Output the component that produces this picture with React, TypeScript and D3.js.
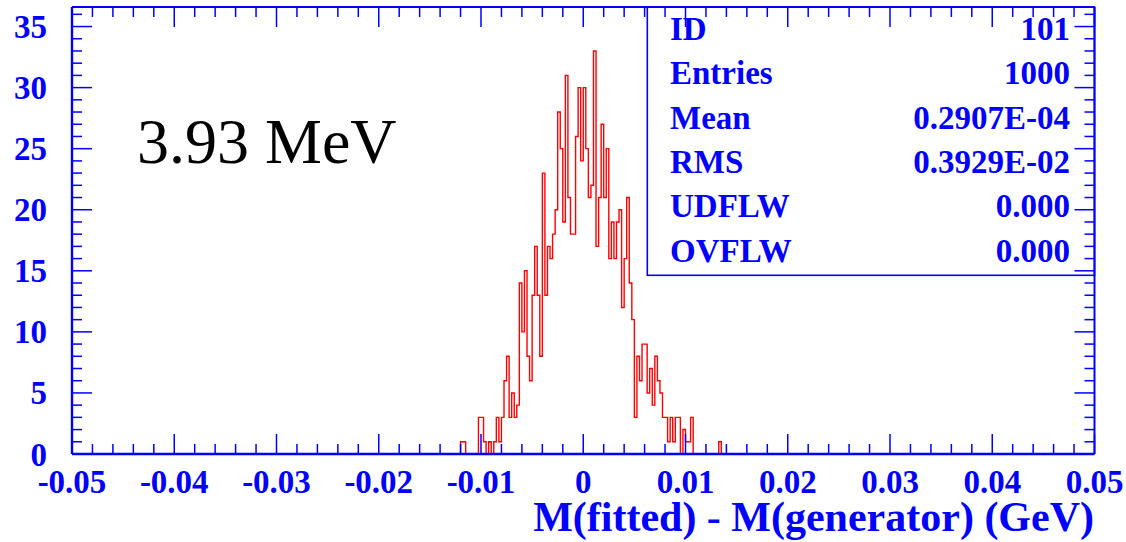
import React from 'react';
import * as d3 from 'd3';

// Histogram definition: 400 bins over [-0.05, 0.05]; non-empty region starts at -0.012
const binLow = -0.012;
const binWidth = 0.00025;
const counts = [
  1, 1, 0, 0, 0, 0, 0, 3, 3, 1,
  0, 1, 0, 1, 3, 1, 3, 6, 8, 3,
  5, 3, 4, 14, 10, 15, 8, 6, 13, 17,
  13, 8, 23, 13, 17, 16, 18, 20, 28, 25,
  19, 31, 21, 18, 18, 26, 30, 24, 30, 25,
  21, 22, 33, 17, 21, 27, 21, 25, 16, 19,
  16, 19, 20, 12, 16, 21, 14, 11, 3, 8,
  6, 9, 9, 5, 7, 4, 8, 6, 5, 3,
  3, 1, 3, 1, 3, 3, 0, 2, 1, 1,
  3, 0, 0, 0, 0, 0, 0, 0, 0, 0,
  0, 1,
];

const xTickValues = [-0.05, -0.04, -0.03, -0.02, -0.01, 0, 0.01, 0.02, 0.03, 0.04, 0.05];
const xTickLabels = ['-0.05', '-0.04', '-0.03', '-0.02', '-0.01', '0', '0.01', '0.02', '0.03', '0.04', '0.05'];
const yTickValues = [0, 5, 10, 15, 20, 25, 30, 35];
const yTickLabels = ['0', '5', '10', '15', '20', '25', '30', '35'];

const statLabels = ['ID', 'Entries', 'Mean', 'RMS', 'UDFLW', 'OVFLW'];
const statValues = ['101', '1000', '0.2907E-04', '0.3929E-02', '0.000', '0.000'];

const xTitle = 'M(fitted) - M(generator) (GeV)';
const annotation = '3.93 MeV';

const BLUE = '#0000ff';
const RED = '#ff0000';
const FONT = '"Liberation Serif", "DejaVu Serif", serif';

export default function App() {
  const W = 1126;
  const H = 542;
  const left = 72;
  const right = 1094.5;
  const top = 7;
  const bottom = 454;

  const x = d3.scaleLinear().domain([-0.05, 0.05]).range([left, right]);
  const y = d3.scaleLinear().domain([0, 36.6]).range([bottom, top]);

  const pts: [number, number][] = [[binLow, 0]];
  counts.forEach((c, i) => pts.push([binLow + i * binWidth, c]));
  pts.push([binLow + counts.length * binWidth, 0]);
  const histPath = d3
    .line<[number, number]>()
    .x((d) => x(d[0]))
    .y((d) => y(d[1]))
    .curve(d3.curveStepAfter)(pts) as string;

  const xMinor = x.ticks(50);
  const yMinor = d3.range(0, 37);
  const isXMajor = (v: number) => Math.abs(v * 100 - Math.round(v * 100)) < 1e-6;
  const isYMajor = (v: number) => v % 5 === 0;

  const boxLeft = 647.3;
  const boxBottom = 275.3;
  const rowBase = [40, 84.3, 128.6, 172.9, 217.2, 261.5];

  return (
    <svg
      width={W}
      height={H}
      viewBox={`0 0 ${W} ${H}`}
      style={{ position: 'absolute', left: 0, top: 0, background: '#fff' }}
    >
      <rect x={0} y={0} width={W} height={H} fill="#fff" />
      {/* histogram */}
      <path d={histPath} fill="none" stroke={RED} strokeWidth={1.4} />

      {/* x ticks bottom & top */}
      {xMinor.map((v, i) => {
        const len = isXMajor(v) ? 20 : 10;
        return (
          <g key={`xt${i}`} stroke={BLUE} strokeWidth={1.5}>
            <line x1={x(v)} x2={x(v)} y1={bottom} y2={bottom - len} />
            <line x1={x(v)} x2={x(v)} y1={top} y2={top + len} />
          </g>
        );
      })}
      {/* y ticks left & right */}
      {yMinor.map((v, i) => {
        const len = isYMajor(v) ? 20 : 10;
        return (
          <g key={`yt${i}`} stroke={BLUE} strokeWidth={1.5}>
            <line x1={left} x2={left + len} y1={y(v)} y2={y(v)} />
            <line x1={right} x2={right - len} y1={y(v)} y2={y(v)} />
          </g>
        );
      })}

      {/* frame */}
      <line x1={left} x2={left} y1={top} y2={bottom} stroke={BLUE} strokeWidth={2.4} />
      <line x1={left} x2={right} y1={bottom} y2={bottom} stroke={BLUE} strokeWidth={2.6} />
      <line x1={left} x2={right} y1={top} y2={top} stroke={BLUE} strokeWidth={2} />
      <line x1={right} x2={right} y1={top} y2={bottom} stroke={BLUE} strokeWidth={2} />

      {/* stats box */}
      <rect
        x={boxLeft}
        y={top}
        width={right - boxLeft}
        height={boxBottom - top}
        fill="none"
        stroke={BLUE}
        strokeWidth={1.6}
      />
      {statLabels.map((s, i) => (
        <text
          key={`sl${i}`}
          x={670}
          y={rowBase[i]}
          fill={BLUE}
          fontFamily={FONT}
          fontWeight="bold"
          fontSize={33}
        >
          {s}
        </text>
      ))}
      {statValues.map((s, i) => (
        <text
          key={`sv${i}`}
          x={1070}
          y={rowBase[i]}
          fill={BLUE}
          fontFamily={FONT}
          fontWeight="bold"
          fontSize={33}
          textAnchor="end"
        >
          {s}
        </text>
      ))}

      {/* x tick labels */}
      {xTickValues.map((v, i) => (
        <text
          key={`xl${i}`}
          x={x(v)}
          y={493}
          fill={BLUE}
          fontFamily={FONT}
          fontWeight="bold"
          fontSize={33}
          textAnchor="middle"
        >
          {xTickLabels[i]}
        </text>
      ))}
      {/* y tick labels */}
      {yTickValues.map((v, i) => (
        <text
          key={`yl${i}`}
          x={47}
          y={y(v) + 11.5}
          fill={BLUE}
          fontFamily={FONT}
          fontWeight="bold"
          fontSize={33}
          textAnchor="end"
        >
          {yTickLabels[i]}
        </text>
      ))}

      {/* x axis title */}
      <text
        x={1094}
        y={531}
        fill={BLUE}
        fontFamily={FONT}
        fontWeight="bold"
        fontSize={42}
        textAnchor="end"
      >
        {xTitle}
      </text>

      {/* annotation */}
      <text x={137} y={163} fill="#000" fontFamily={FONT} fontSize={64}>
        {annotation}
      </text>
    </svg>
  );
}
